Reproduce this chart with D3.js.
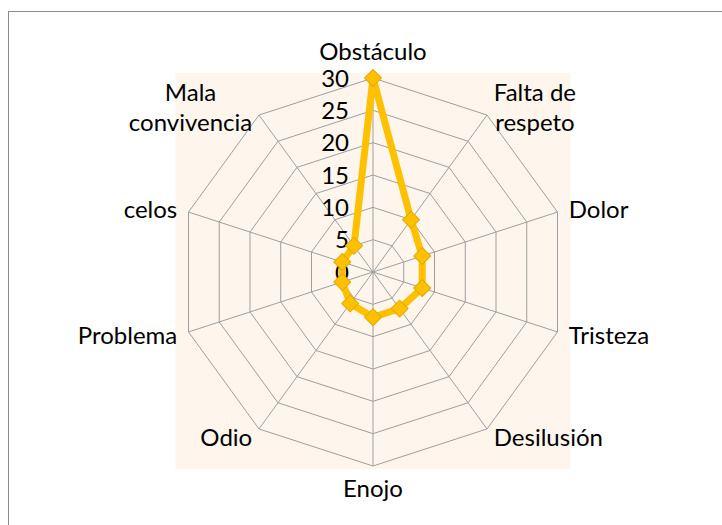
<!DOCTYPE html>
<html>
<head>
<meta charset="utf-8">
<script src="https://cdn.jsdelivr.net/npm/d3@7"></script>
<style>
  body { margin: 0; background: #fff; }
  text { font-family: Lato, "Open Sans", sans-serif; fill: #000; }
</style>
</head>
<body>
<div id="chart-area"></div>
<script>
const CATEGORIES = ['Obstáculo', 'Falta de respeto', 'Dolor', 'Tristeza', 'Desilusión',
  'Enojo', 'Odio', 'Problema', 'celos', 'Mala convivencia'];
const VALUES = [30, 10, 8, 8, 7, 7, 6, 5, 5, 5];
const TICKS = [0, 5, 10, 15, 20, 25, 30];

const W = 722;
const H = 525;
const cx = 373;
const cy = 272;
const R = 194;
const FONT = 24;
const LINE_H = 30;

const svg = d3.select('#chart-area')
  .append('svg')
  .attr('width', W)
  .attr('height', H);

// chart border, runs off the right and bottom edges
svg.append('rect')
  .attr('x', 8.5)
  .attr('y', 11.5)
  .attr('width', W + 20)
  .attr('height', H + 20)
  .attr('fill', 'none')
  .attr('stroke', '#8c8c8c');

// plot area
svg.append('rect')
  .attr('x', cx - 197.5)
  .attr('y', cy - 199)
  .attr('width', 395)
  .attr('height', 396)
  .attr('fill', '#fef6ec');

const angle = d3.scaleBand()
  .domain(CATEGORIES)
  .range([0, 2 * Math.PI]);

const r = d3.scaleLinear()
  .domain([0, d3.max(TICKS)])
  .range([0, R]);

const chart = svg.append('g')
  .attr('transform', `translate(${cx},${cy})`);

const ring = (v) => d3.lineRadial()
  .angle((c) => angle(c))
  .radius(() => r(v))
  .curve(d3.curveLinearClosed)(CATEGORIES);

chart.append('g')
  .selectAll('path')
  .data(TICKS.filter((t) => t > 0))
  .join('path')
  .attr('d', (t) => ring(t))
  .attr('fill', 'none')
  .attr('stroke', '#9e9e9e')
  .attr('stroke-width', 1);

chart.append('g')
  .selectAll('line')
  .data(CATEGORIES)
  .join('line')
  .attr('x1', 0)
  .attr('y1', 0)
  .attr('x2', (c) => d3.pointRadial(angle(c), R)[0])
  .attr('y2', (c) => d3.pointRadial(angle(c), R)[1])
  .attr('stroke', '#9e9e9e')
  .attr('stroke-width', 1);

// value axis labels
chart.append('g')
  .selectAll('text')
  .data(TICKS)
  .join('text')
  .attr('x', -24)
  .attr('y', (t) => -r(t))
  .attr('dy', '0.36em')
  .attr('text-anchor', 'end')
  .style('font-size', FONT + 'px')
  .text((t) => t);

const series = CATEGORIES.map((c, i) => ({ cat: c, value: VALUES[i] }));

chart.append('path')
  .datum(series)
  .attr('d', d3.lineRadial()
    .angle((d) => angle(d.cat))
    .radius((d) => r(d.value))
    .curve(d3.curveLinearClosed))
  .attr('fill', 'none')
  .attr('stroke', '#ffc000')
  .attr('stroke-width', 7)
  .attr('stroke-linejoin', 'round');

chart.append('g')
  .selectAll('path')
  .data(series)
  .join('path')
  .attr('d', d3.symbol(d3.symbolSquare, 144))
  .attr('transform', (d) => {
    const [x, y] = d3.pointRadial(angle(d.cat), r(d.value));
    return `translate(${x},${y}) rotate(45)`;
  })
  .attr('fill', '#ffc000')
  .attr('stroke', '#e0aa00')
  .attr('stroke-width', 1);

// category labels, wrapped like the original
const measure = chart.append('text').style('font-size', FONT + 'px');
const textWidth = (s) => {
  measure.text(s);
  return measure.node().getComputedTextLength();
};
const wrap = (label, maxW) => label.split(' ').reduce((lines, word) => {
  const last = lines[lines.length - 1];
  if (last && textWidth(last + ' ' + word) <= maxW) {
    lines[lines.length - 1] = last + ' ' + word;
  } else {
    lines.push(word);
  }
  return lines;
}, []);

const labels = chart.append('g');
CATEGORIES.forEach((c) => {
  const a = angle(c);
  const [vx, vy] = d3.pointRadial(a, R);
  const s = Math.sin(a);
  const co = Math.cos(a);
  const lines = wrap(c, 125);
  const w = d3.max(lines, textWidth);
  let x = vx;
  let y0;
  if (Math.abs(s) < 0.01) {
    y0 = co > 0 ? vy - 18 : vy + 31;
  } else {
    const gap = 4 + 8 * s * s;
    x = vx + Math.sign(s) * (gap + w / 2);
    const yc = vy - co * 10;
    y0 = yc - (lines.length - 1) * LINE_H / 2 + 9;
  }
  labels.append('text')
    .attr('text-anchor', 'middle')
    .style('font-size', FONT + 'px')
    .selectAll('tspan')
    .data(lines)
    .join('tspan')
    .attr('x', x)
    .attr('y', (l, k) => y0 + k * LINE_H)
    .text((l) => l);
});
measure.remove();
</script>
</body>
</html>
